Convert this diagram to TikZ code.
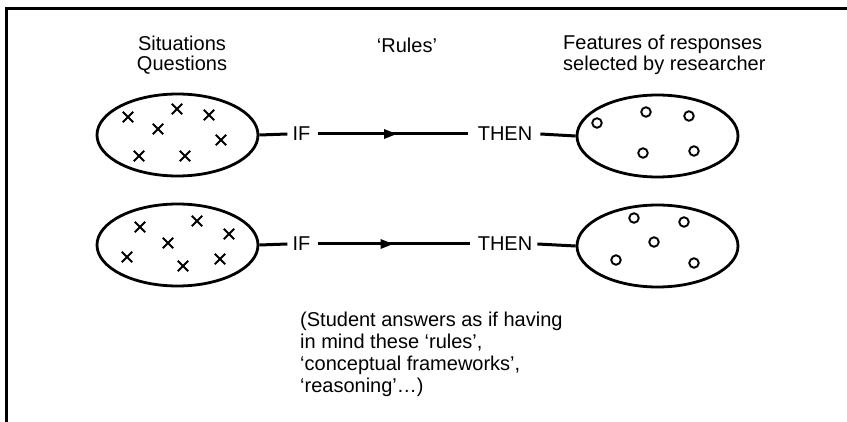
\documentclass[tikz,border=0pt]{standalone}
\usepackage{fontspec}
\setmainfont{Liberation Sans}
\usetikzlibrary{arrows.meta,decorations.markings,shapes.misc,shapes.geometric}
\tikzset{
  set/.style={draw, ellipse, line width=2.8pt, minimum width=161pt, minimum height=82pt, inner sep=0pt},
  lbl/.style={inner sep=0pt, font=\fontsize{20}{20.5}\selectfont},
  conn/.style={line width=3pt},
  rulearrow/.style={line width=3pt, decoration={markings, mark=at position #1 with {\arrow{Triangle[length=13pt,width=9pt]}}}, postaction={decorate}},
  xmark/.style={draw, cross out, line width=1.9pt, minimum size=8.5pt, inner sep=0pt},
  omark/.style={draw, circle, line width=1.9pt, minimum size=9.5pt, inner sep=0pt},
  frameline/.style={line width=3pt}
}
\begin{document}
\begin{tikzpicture}[x=1pt,y=-1pt]
\useasboundingbox (0,0) rectangle (847,422);
\draw[frameline] (6,422) -- (6,9) -- (847,9);

\node[lbl, align=center] (sq) at (182,55) {Situations\\Questions};
\node[lbl] (rules) at (407,45) {‘Rules’};
\node[lbl, align=left, anchor=west] (feat) at (563,55) {Features of responses\\selected by researcher};

% row 1
\node[set] (s1) at (177.5,135) {};
\node[set] (r1) at (657.5,136) {};
\node[lbl] (if1) at (301.5,134) {IF};
\node[lbl] (then1) at (505,134) {THEN};
\draw[conn] (s1.east) -- ([xshift=-5pt]if1.west);
\draw[rulearrow=0.53] ([xshift=7pt]if1.east) -- ([xshift=-10pt]then1.west);
\draw[conn] ([xshift=8pt]then1.east) -- (r1.west);

% row 2
\node[set] (s2) at (177.5,245) {};
\node[set] (r2) at (657.5,246) {};
\node[lbl] (if2) at (301.5,244) {IF};
\node[lbl] (then2) at (505,244) {THEN};
\draw[conn] (s2.east) -- ([xshift=-5pt]if2.west);
\draw[rulearrow=0.5] ([xshift=7pt]if2.east) -- ([xshift=-8pt]then2.west);
\draw[conn] ([xshift=5pt]then2.east) -- (r2.west);

% crosses row 1
\node[xmark] (x11) at (128,117) {};
\node[xmark] (x12) at (177,109) {};
\node[xmark] (x13) at (209,115) {};
\node[xmark] (x14) at (158,129) {};
\node[xmark] (x15) at (221,140) {};
\node[xmark] (x16) at (139,156) {};
\node[xmark] (x17) at (185,156) {};
% crosses row 2
\node[xmark] (x21) at (140,227) {};
\node[xmark] (x22) at (197,221) {};
\node[xmark] (x23) at (229,234) {};
\node[xmark] (x24) at (168,243) {};
\node[xmark] (x25) at (127,257) {};
\node[xmark] (x26) at (183,266) {};
\node[xmark] (x27) at (220,259) {};

% circles row 1
\node[omark] (o11) at (597,123) {};
\node[omark] (o12) at (646,112) {};
\node[omark] (o13) at (689,116) {};
\node[omark] (o14) at (643,153) {};
\node[omark] (o15) at (694,151) {};
% circles row 2
\node[omark] (o21) at (634,218) {};
\node[omark] (o22) at (684,222) {};
\node[omark] (o23) at (654,242) {};
\node[omark] (o24) at (616,260) {};
\node[omark] (o25) at (694,263) {};

\node[lbl, align=left, anchor=north west, font=\fontsize{20}{22}\selectfont] (note) at (300,312)
  {(Student answers as if having\\in mind these ‘rules’,\\‘conceptual frameworks’,\\‘reasoning’\dots)};
\end{tikzpicture}
\end{document}
